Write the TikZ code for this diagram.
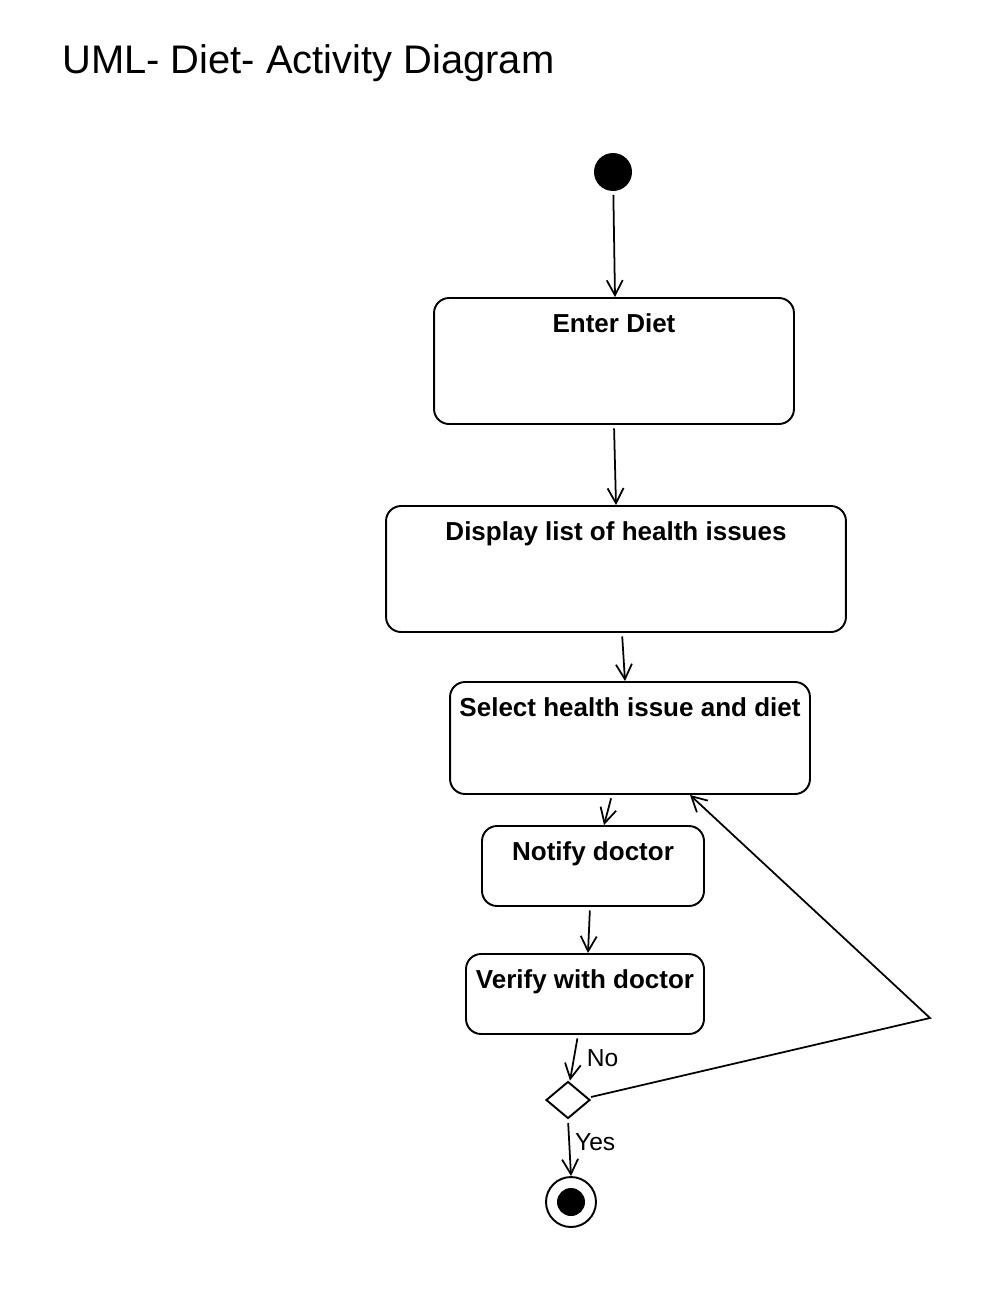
\documentclass[tikz,border=0pt]{standalone}
\usepackage{fontspec}
\setmainfont{Liberation Sans}
\usetikzlibrary{arrows.meta, shapes.geometric, positioning}

\tikzset{
  activity/.style={draw, line width=1.1pt, rounded corners=0.3cm, inner sep=0pt},
  actlabel/.style={anchor=north, font=\bfseries\fontsize{14.8}{17}\selectfont, inner sep=0pt, yshift=-0.33cm},
  startnode/.style={circle, fill, minimum size=0.76cm, inner sep=0pt},
  endnode/.style={circle, draw, line width=1.1pt, minimum size=1cm, inner sep=0pt,
    path picture={\fill (path picture bounding box.center) circle (0.28cm);}},
  decision/.style={diamond, draw, line width=1.1pt, minimum width=0.88cm, minimum height=0.74cm, inner sep=0pt},
  flow/.style={line width=1pt, -{Straight Barb[length=0.3cm, width=0.32cm]}, shorten <=2pt},
  guard/.style={font=\fontsize{14}{16}\selectfont, inner sep=0pt},
}

\begin{document}
\begin{tikzpicture}[x=0.02cm, y=-0.02cm]
\useasboundingbox (0,0) rectangle (982,1302);

\node[anchor=base west, font=\fontsize{22.7}{26}\selectfont, inner sep=0pt] (title) at (62,73) {UML- Diet- Activity Diagram};

% states
\node[startnode] (start) at (613,172) {};
\node[activity, minimum width=7.2cm, minimum height=2.52cm, label={[actlabel]north:Enter Diet}] (enter) at (614,361) {};
\node[activity, minimum width=9.2cm, minimum height=2.52cm, label={[actlabel]north:Display list of health issues}] (display) at (616,569) {};
\node[activity, minimum width=7.2cm, minimum height=2.24cm, label={[actlabel]north:Select health issue and diet}] (select) at (630,738) {};
\node[activity, minimum width=4.44cm, minimum height=1.6cm, label={[actlabel]north:Notify doctor}] (notify) at (593,866) {};
\node[activity, minimum width=4.76cm, minimum height=1.6cm, label={[actlabel]north:Verify with doctor}] (verify) at (585,994) {};
\node[decision] (check) at (568,1100) {};
\node[endnode] (stop) at (571,1202) {};
\coordinate (bend) at (930,1018);

% transitions
\draw[flow] (start) -- ([xshift=0.02cm]enter.north);
\draw[flow] (enter.south) -- (display.north);
\draw[flow] ([xshift=0.12cm]display.south) -- ([xshift=-0.1cm]select.north);
\draw[flow] ([xshift=-0.36cm]select.south) -- ([xshift=0.22cm]notify.north);
\draw[flow] ([xshift=-0.06cm]notify.south) -- ([xshift=0.06cm]verify.north);
\draw[flow] ([xshift=-0.14cm]verify.south) -- node[guard, right=0.24cm] {No} ([xshift=0.04cm]check.north);
\draw[flow] (check.south) -- node[guard, right=0.1cm, pos=0.4] {Yes} (stop.north);
\draw[flow, shorten <=0pt] ([yshift=0.06cm]check.east) -- (bend) -- ([xshift=1.2cm]select.south);

\end{tikzpicture}
\end{document}
